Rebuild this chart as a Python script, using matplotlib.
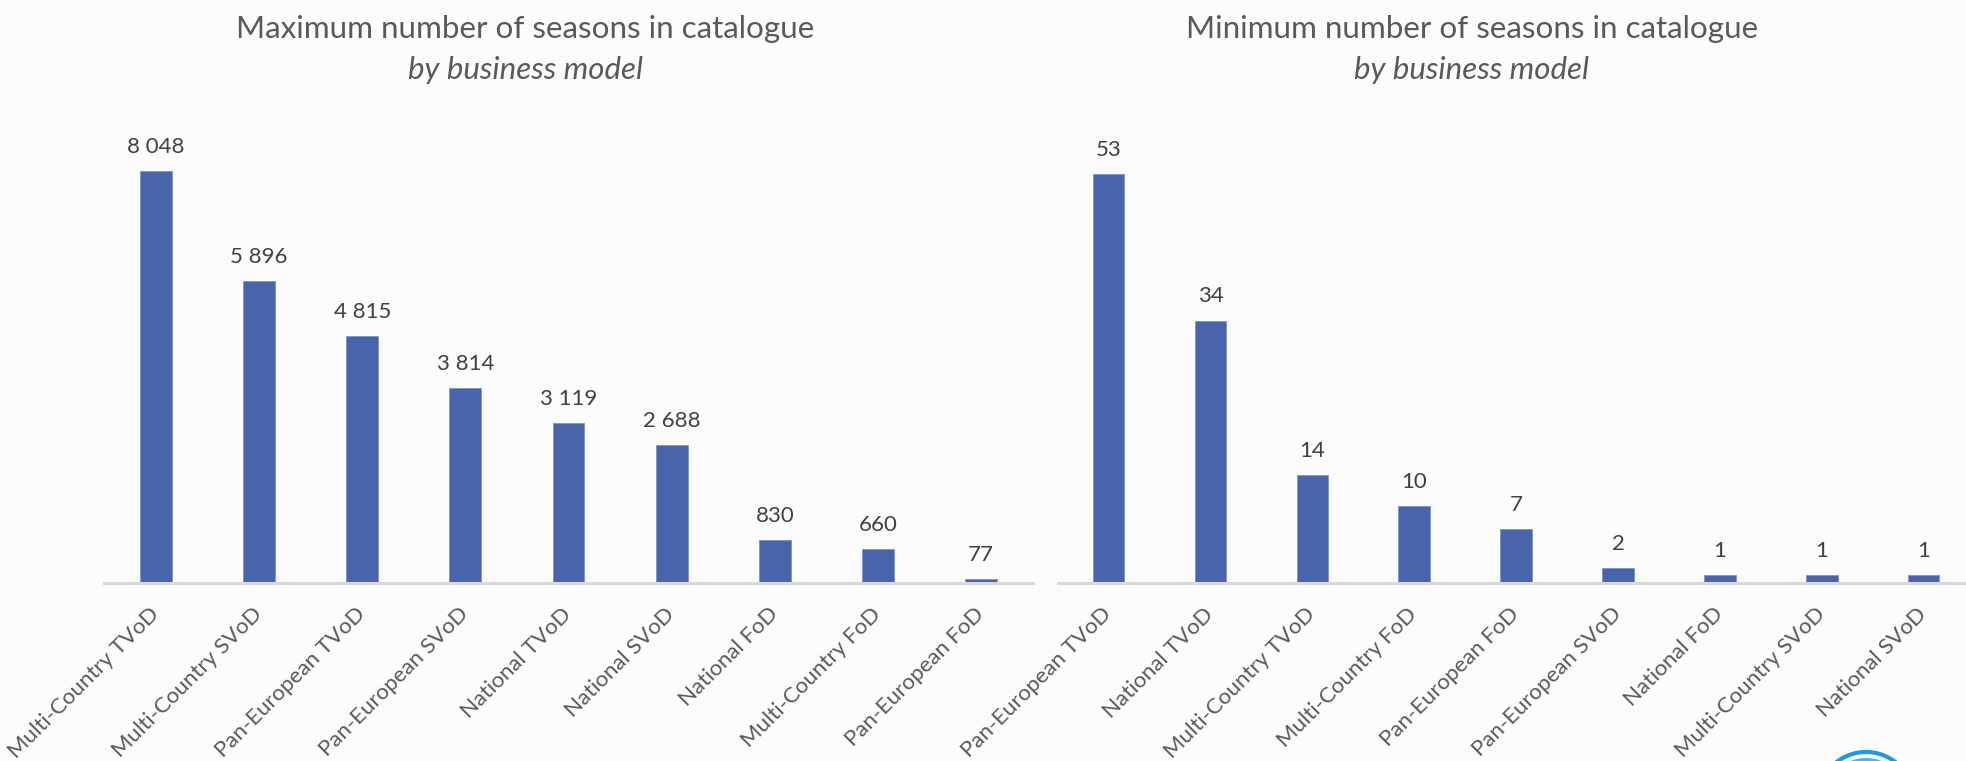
import matplotlib.pyplot as plt
from matplotlib.patches import Arc

# data
max_models = ['Multi-Country TVoD', 'Multi-Country SVoD', 'Pan-European TVoD',
              'Pan-European SVoD', 'National TVoD', 'National SVoD',
              'National FoD', 'Multi-Country FoD', 'Pan-European FoD']
max_seasons = [8048, 5896, 4815, 3814, 3119, 2688, 830, 660, 77]

min_models = ['Pan-European TVoD', 'National TVoD', 'Multi-Country TVoD',
              'Multi-Country FoD', 'Pan-European FoD', 'Pan-European SVoD',
              'National FoD', 'Multi-Country SVoD', 'National SVoD']
min_seasons = [53, 34, 14, 10, 7, 2, 1, 1, 1]

bar_col = '#4865ac'
bg = '#fcfcfc'
plt.rcParams['font.family'] = ['Lato', 'DejaVu Sans']

fig = plt.figure(figsize=(19.66, 7.61), dpi=100, facecolor=bg)

W, H = 1966, 761


def draw(ax, names, vals, ymax):
    x = list(range(len(vals)))
    ax.bar(x, vals, width=0.31, color=bar_col, edgecolor='#7d93c9', linewidth=0.6)
    ax.set_xlim(-0.5, len(vals) - 0.5)
    ax.set_ylim(0, ymax)
    ax.set_facecolor('none')
    for s in ['top', 'right', 'left']:
        ax.spines[s].set_visible(False)
    ax.spines['bottom'].set_color('#d9d9d9')
    ax.spines['bottom'].set_linewidth(2.2)
    ax.set_yticks([])
    ax.set_xticks(x)
    ax.set_xticklabels(names, rotation=45, ha='right', va='center',
                       rotation_mode='anchor', fontsize=16, color='#595959')
    ax.tick_params(axis='x', length=0, pad=20)
    for xi, v in zip(x, vals):
        ax.annotate(f'{v:,}'.replace(',', ' '), (xi, v), xytext=(0, 13),
                    textcoords='offset points', ha='center', va='baseline',
                    fontsize=16, color='#404040')


bottom = 1 - 583 / H
top = 1 - 100 / H
ax1 = fig.add_axes([104.4 / W, bottom, (1032.6 - 104.4) / W, top - bottom])
draw(ax1, max_models, max_seasons, 9428)
ax2 = fig.add_axes([1057.6 / W, bottom, (1974.6 - 1057.6) / W, top - bottom])
draw(ax2, min_models, min_seasons, 62.56)

# titles
for cx, t in [(525, 'Maximum number of seasons in catalogue'),
              (1472, 'Minimum number of seasons in catalogue')]:
    fig.text(cx / W, 1 - 38 / H, t, ha='center', va='baseline',
             fontsize=22.6, color='#595959')
    fig.text(cx / W, 1 - 79 / H, 'by business model', ha='center',
             va='baseline', fontsize=22.5, style='italic', color='#595959')

# partial logo bottom right
for r, c in [(48, '#1e9be0'), (40, '#4fb6ea'), (32, '#8fd0f2')]:
    fig.add_artist(Arc((1866 / W, 1 - 800 / H), 2 * r / W, 2 * r / H,
                       theta1=20, theta2=160, color=c, lw=3,
                       transform=fig.transFigure))

fig.savefig('out.png', dpi=100, facecolor=bg)
